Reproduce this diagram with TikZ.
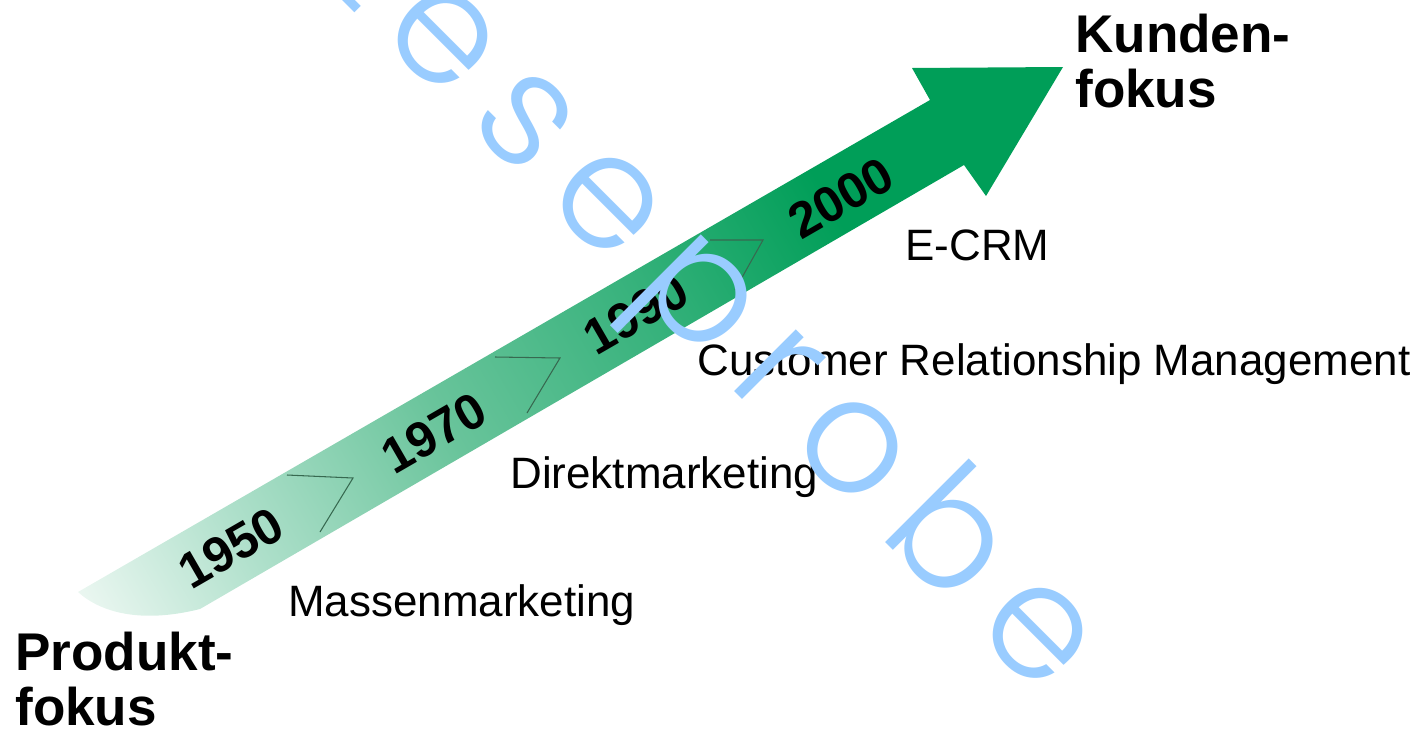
\documentclass[tikz,border=0pt]{standalone}
\usepackage{fontspec}
\setmainfont{Liberation Sans}
\newfontfamily\stampfont{Poppins Light}[LetterSpace=16.5]

\definecolor{arrowgreen}{RGB}{0,158,88}
\definecolor{midgreen}{RGB}{55,178,124}
\definecolor{lightgreen}{RGB}{105,196,155}
\definecolor{palegreen}{RGB}{175,224,203}
\definecolor{tailgreen}{RGB}{238,248,243}
\definecolor{chevrongray}{RGB}{55,105,80}
\definecolor{stampblue}{RGB}{153,204,255}

\pgfdeclarehorizontalshading{greenfade}{100bp}{color(0bp)=(tailgreen); color(16bp)=(tailgreen);
  color(27bp)=(palegreen); color(41bp)=(lightgreen); color(55bp)=(midgreen);
  color(68bp)=(arrowgreen); color(100bp)=(arrowgreen)}

\begin{document}
\begin{tikzpicture}[x=0.2mm, y=-0.2mm,
    year/.style = {font=\bfseries\fontsize{28.5}{30}\selectfont, rotate=30},
    phase/.style = {font=\fontsize{25}{30}\selectfont, anchor=base west, inner sep=0pt},
    focus/.style = {font=\bfseries\fontsize{30.2}{31.3}\selectfont, align=left, anchor=north west, inner sep=0pt},
    chevron/.style = {draw=chevrongray, line width=0.6pt}]
	\clip (0,0) rectangle (1425,731);

	% the big arrow, pale at the tail, full green at the head
	\path[shading=greenfade, shading angle=30]
		(78,592) -- (930,100) -- (912,68) -- (1063,67) -- (986,196) -- (964,165)
		-- (200,609) .. controls (140,624) and (100,612) .. (78,592) -- cycle;

	% steps between the decades
	\draw[chevron] (287,475) -- (353,478) -- (320,532);
	\draw[chevron] (495,357) -- (560,358) -- (527,413);
	\draw[chevron] (710,240) -- (763,240) -- (735,290);

	% decades
	\node[year] (y1950) at (231,548) {1950};
	\node[year] (y1970) at (434,433) {1970};
	\node[year] (y1990) at (636,314) {1990};
	\node[year] (y2000) at (841,198) {2000};

	% marketing phases
	\node[phase] (mass) at (288,616) {Massenmarketing};
	\node[phase] (direkt) at (510,488) {Direktmarketing};
	\node[phase] (crm) at (697,375) {Customer Relationship Management};
	\node[phase] (ecrm) at (905,260) {E-CRM};

	% both ends
	\node[focus] (produkt) at (15,632) {Produkt-\\fokus};
	\node[focus] (kunden) at (1075,14) {Kunden-\\fokus};

	% stamp across everything
	\node[text=stampblue, font=\stampfont\fontsize{91}{91}\selectfont, rotate=-45] (stamp) at (703,306) {Leseprobe};
\end{tikzpicture}
\end{document}
